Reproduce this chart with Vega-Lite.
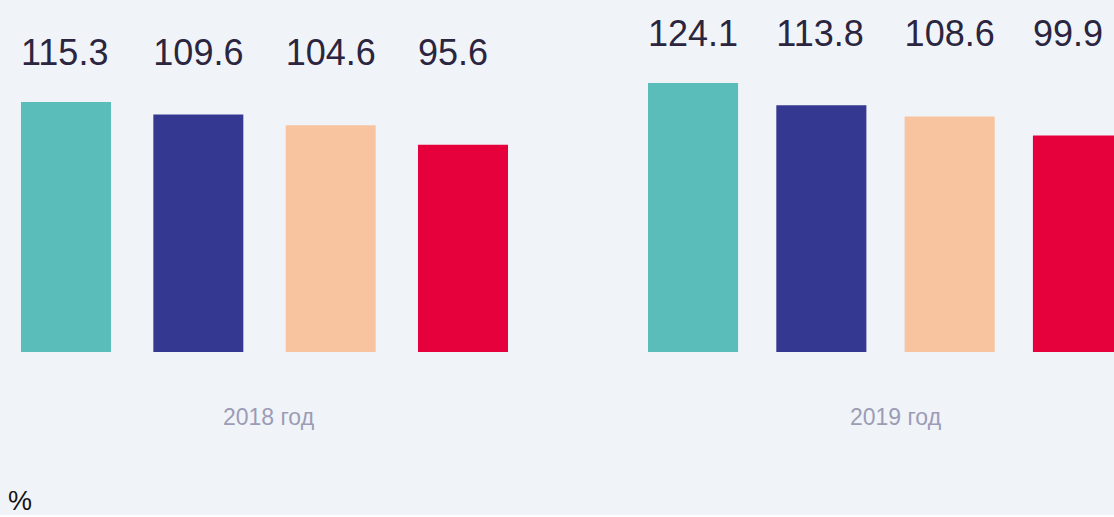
{
  "$schema": "https://vega.github.io/schema/vega-lite/v6.json",
  "background": "#f0f4f8",
  "padding": 0,
  "spacing": 30,
  "data": {"values": [
    {"year": "2018", "cat": "1", "value": 115.3},
    {"year": "2018", "cat": "2", "value": 109.6},
    {"year": "2018", "cat": "3", "value": 104.6},
    {"year": "2018", "cat": "4", "value": 95.6},
    {"year": "2019", "cat": "1", "value": 124.1},
    {"year": "2019", "cat": "2", "value": 113.8},
    {"year": "2019", "cat": "3", "value": 108.6},
    {"year": "2019", "cat": "4", "value": 99.9}
  ]},
  "title": {
    "text": "%",
    "orient": "bottom",
    "anchor": "start",
    "font": "Liberation Sans",
    "fontSize": 27,
    "fontWeight": "normal",
    "color": "#141414",
    "baseline": "alphabetic",
    "dx": 8,
    "offset": 81
  },
  "hconcat": [
    {
      "width": 530,
      "height": 352,
      "transform": [
        {"filter": "datum.year === '2018'"},
        {"joinaggregate": [{"op": "max", "field": "value", "as": "gmax"}]}
      ],
      "layer": [
        {
          "mark": {"type": "bar"},
          "encoding": {
            "x": {"field": "cat", "type": "nominal", "sort": null,
              "scale": {"range": [21, 508], "paddingInner": 0.32, "paddingOuter": 0},
              "axis": {"labels": false, "ticks": false, "domain": false, "grid": false,
                "title": "2018 год", "titleFont": "Liberation Sans", "titleFontSize": 23,
                "titleFontWeight": "normal", "titleColor": "#9c9cb6",
                "titleBaseline": "alphabetic", "titlePadding": 72, "titleX": 268}},
            "y": {"field": "value", "type": "quantitative",
              "scale": {"domain": [0, 162.4], "nice": false, "zero": true}, "axis": null},
            "color": {"field": "cat", "type": "nominal", "legend": null,
              "scale": {"domain": ["1", "2", "3", "4"], "range": ["#5bbdba", "#353890", "#f7c49f", "#e6003c"]}}
          }
        },
        {
          "mark": {"type": "text", "align": "left", "baseline": "alphabetic", "dy": -37,
            "font": "Liberation Sans", "fontSize": 36, "color": "#2b2540"},
          "encoding": {
            "x": {"field": "cat", "type": "nominal", "bandPosition": 0},
            "y": {"field": "gmax", "type": "quantitative"},
            "text": {"field": "value", "type": "quantitative", "format": ".1f"}
          }
        }
      ]
    },
    {
      "width": 554,
      "height": 352,
      "transform": [
        {"filter": "datum.year === '2019'"},
        {"joinaggregate": [{"op": "max", "field": "value", "as": "gmax"}]}
      ],
      "layer": [
        {
          "mark": {"type": "bar", "clip": true},
          "encoding": {
            "x": {"field": "cat", "type": "nominal", "sort": null,
              "scale": {"range": [88, 563], "paddingInner": 0.298, "paddingOuter": 0},
              "axis": {"labels": false, "ticks": false, "domain": false, "grid": false,
                "title": "2019 год", "titleFont": "Liberation Sans", "titleFontSize": 23,
                "titleFontWeight": "normal", "titleColor": "#9c9cb6",
                "titleBaseline": "alphabetic", "titlePadding": 72, "titleX": 335}},
            "y": {"field": "value", "type": "quantitative",
              "scale": {"domain": [0, 162.4], "nice": false, "zero": true}, "axis": null},
            "color": {"field": "cat", "type": "nominal", "legend": null,
              "scale": {"domain": ["1", "2", "3", "4"], "range": ["#5bbdba", "#353890", "#f7c49f", "#e6003c"]}}
          }
        },
        {
          "mark": {"type": "text", "align": "left", "baseline": "alphabetic", "dy": -37,
            "font": "Liberation Sans", "fontSize": 36, "color": "#2b2540", "clip": true},
          "encoding": {
            "x": {"field": "cat", "type": "nominal", "bandPosition": 0},
            "y": {"field": "gmax", "type": "quantitative"},
            "text": {"field": "value", "type": "quantitative", "format": ".1f"}
          }
        }
      ]
    }
  ],
  "config": {"view": {"stroke": null}}
}
